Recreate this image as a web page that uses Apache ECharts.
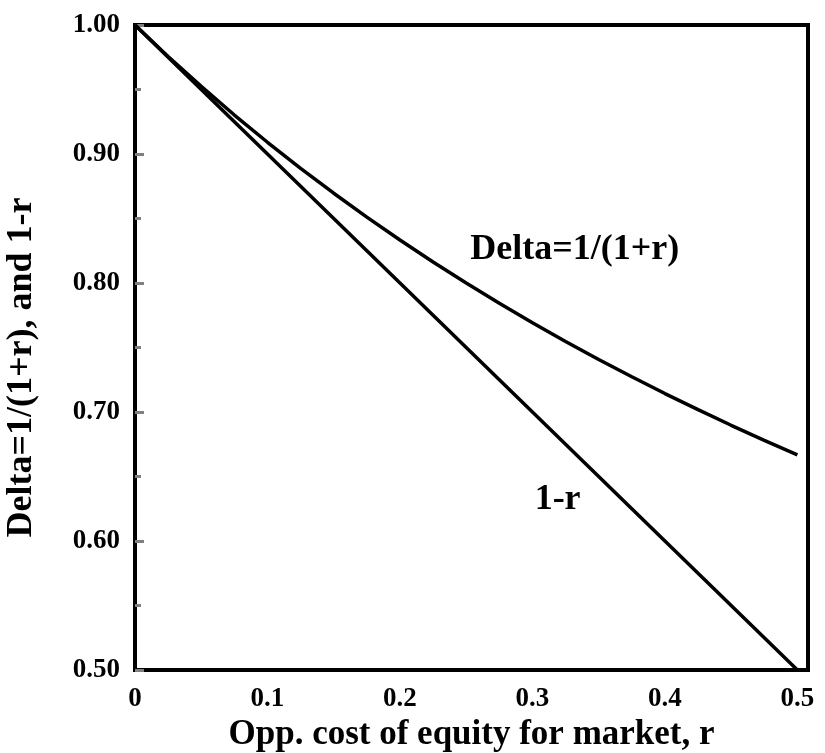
<!DOCTYPE html>
<html>
<head>
<meta charset="utf-8">
<script src="https://cdn.jsdelivr.net/npm/echarts@6/dist/echarts.min.js"></script>
<style>html,body{margin:0;padding:0;background:#fff}#c{width:825px;height:753px}</style>
</head>
<body>
<div id="c"></div>
<script>
var rValues = [0,0.025,0.05,0.075,0.1,0.125,0.15,0.175,0.2,0.225,0.25,0.275,0.3,0.325,0.35,0.375,0.4,0.425,0.45,0.475,0.5];
var deltaValues = [1.0000,0.9756,0.9524,0.9302,0.9091,0.8889,0.8696,0.8511,0.8333,0.8163,0.8000,0.7843,0.7692,0.7547,0.7407,0.7273,0.7143,0.7018,0.6897,0.6780,0.6667];
var oneMinusRValues = [1.000,0.975,0.950,0.925,0.900,0.875,0.850,0.825,0.800,0.775,0.750,0.725,0.700,0.675,0.650,0.625,0.600,0.575,0.550,0.525,0.500];
var xTickLabels = ['0','0.1','0.2','0.3','0.4','0.5'];
var yTickLabels = ['0.50','0.60','0.70','0.80','0.90','1.00'];
var labelDelta = {text:'Delta=1/(1+r)', r:0.332, v:0.8256};
var labelOneMinus = {text:'1-r', r:0.319, v:0.632};

var font = 'Liberation Serif';
function pairs(xs, ys){ return xs.map(function(x,i){return [x, ys[i]];}); }

var chart = echarts.init(document.getElementById('c'), null, {renderer:'canvas'});
chart.setOption({
  animation:false,
  backgroundColor:'#fff',
  grid:{left:135,top:25,right:17,bottom:83,show:true,borderColor:'#000',borderWidth:4,backgroundColor:'transparent',
        containLabel:false, outerBoundsMode:'none'},
  xAxis:{
    type:'value', min:0, max:0.508, interval:0.1,
    name:'Opp. cost of equity for market, r', nameLocation:'middle', nameGap:16,
    nameTextStyle:{fontFamily:font,fontWeight:'bold',fontSize:35,color:'#000'},
    axisLine:{show:true,lineStyle:{color:'#000',width:4}},
    axisTick:{show:false},
    splitLine:{show:false},
    axisLabel:{margin:16,fontFamily:font,fontWeight:'bold',fontSize:27,color:'#000',
      showMaxLabel:false,
      formatter:function(v){var k=Math.round(v*10); return Math.abs(v*10-k)<1e-6 && k<xTickLabels.length ? xTickLabels[k] : '';}}
  },
  yAxis:{
    type:'value', min:0.5, max:1.0, interval:0.1,
    name:'Delta=1/(1+r), and 1-r', nameLocation:'middle', nameGap:95,
    nameTextStyle:{fontFamily:font,fontWeight:'bold',fontSize:36,color:'#000',padding:[0,40,0,0]},
    axisLine:{show:true,lineStyle:{color:'#000',width:4}},
    axisTick:{show:true,inside:true,length:9,lineStyle:{color:'#808080',width:3}},
    minorTick:{show:true,splitNumber:2,length:6,lineStyle:{color:'#808080',width:3}},
    splitLine:{show:false},
    axisLabel:{margin:15,fontFamily:font,fontWeight:'bold',fontSize:27,color:'#000',
      formatter:function(v){var k=Math.round((v-0.5)*10); return yTickLabels[k]||'';}}
  },
  series:[
    {type:'line', data:pairs(rValues, deltaValues), showSymbol:false, symbol:'none',
     lineStyle:{color:'#000',width:3.5}, z:3,
     markPoint:{symbol:'circle',symbolSize:0,silent:true,
       label:{show:true,position:'inside',formatter:labelDelta.text,fontFamily:font,fontWeight:'bold',fontSize:36,color:'#000'},
       data:[{coord:[labelDelta.r,labelDelta.v]}]}},
    {type:'line', data:pairs(rValues, oneMinusRValues), showSymbol:false, symbol:'none',
     lineStyle:{color:'#000',width:3.5}, z:3,
     markPoint:{symbol:'circle',symbolSize:0,silent:true,
       label:{show:true,position:'inside',formatter:labelOneMinus.text,fontFamily:font,fontWeight:'bold',fontSize:36,color:'#000'},
       data:[{coord:[labelOneMinus.r,labelOneMinus.v]}]}}
  ]
});
</script>
</body>
</html>
